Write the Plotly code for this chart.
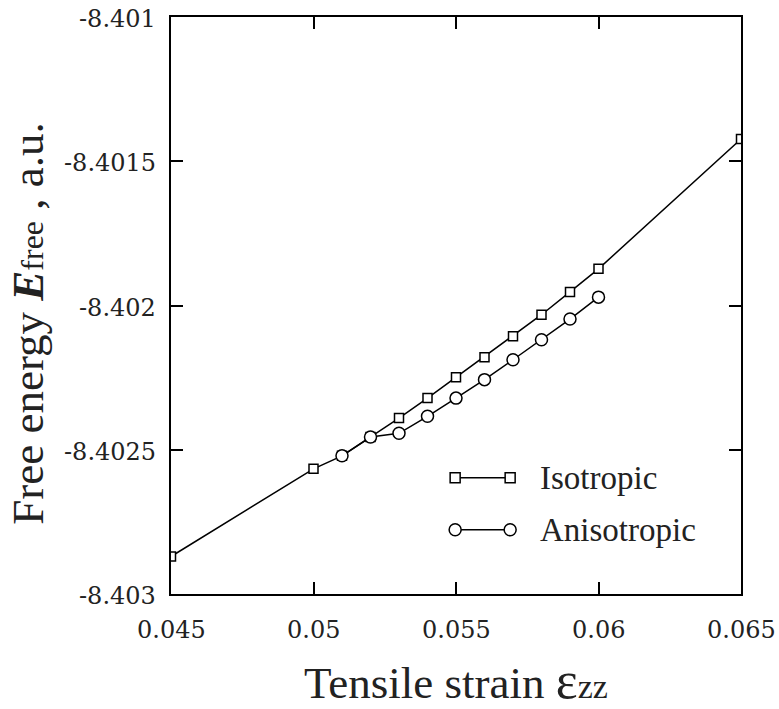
import plotly.graph_objects as go

# Data
iso_x = [0.045, 0.050, 0.051, 0.052, 0.053, 0.054, 0.055, 0.056, 0.057, 0.058, 0.059, 0.060, 0.065]
iso_y = [-8.40287, -8.402566, -8.402521, -8.402456, -8.40239, -8.402321, -8.402249,
         -8.402179, -8.402107, -8.402032, -8.401953, -8.401873, -8.401423]
ani_x = [0.051, 0.052, 0.053, 0.054, 0.055, 0.056, 0.057, 0.058, 0.059, 0.060]
ani_y = [-8.402521, -8.402456, -8.402443, -8.402384, -8.402321, -8.402257,
         -8.402188, -8.402119, -8.402047, -8.401971]

x_tickvals = [0.045, 0.05, 0.055, 0.06, 0.065]
x_ticktext = ["0.045", "0.05", "0.055", "0.06", "0.065"]
y_tickvals = [-8.403, -8.4025, -8.402, -8.4015, -8.401]
y_ticktext = ["-8.403", "-8.4025", "-8.402", "-8.4015", "-8.401"]
legend_names = ["Isotropic", "Anisotropic"]
x_title = "Tensile strain <span style='font-size:52px'>ε</span><span style='font-size:34px'>zz</span>"
y_title = "Free energy <b><i>E</i></b><span style='font-size:32px'>free</span> , a.u."

FONT = "Liberation Serif, Times New Roman, serif"
TICKFONT = "DejaVu Serif, serif"
TXT = "#222222"

fig = go.Figure()
fig.add_trace(go.Scatter(
    x=iso_x, y=iso_y, mode="lines+markers", name=legend_names[0],
    line=dict(color="black", width=1.5),
    marker=dict(symbol="square", size=9, color="white", line=dict(color="black", width=1.5)),
    showlegend=False))
fig.add_trace(go.Scatter(
    x=ani_x, y=ani_y, mode="lines+markers", name=legend_names[1],
    line=dict(color="black", width=1.5),
    marker=dict(symbol="circle", size=12, color="white", line=dict(color="black", width=1.5)),
    showlegend=False))

shapes = []
annotations = []

# manual legend (symbol - line - symbol)
leg_rows = [(0.2016, "square"), (0.1114, "circle")]
xl, xr = 0.4985, 0.595
for (yy, sym), name in zip(leg_rows, legend_names):
    shapes.append(dict(type="line", xref="paper", yref="paper", x0=xl, x1=xr, y0=yy, y1=yy,
                       line=dict(color="black", width=1.5)))
    for xa in (xl, xr):
        r = 5 if sym == "square" else 6
        shapes.append(dict(type="rect" if sym == "square" else "circle",
                           xref="paper", yref="paper",
                           xsizemode="pixel", ysizemode="pixel",
                           xanchor=xa, yanchor=yy, x0=-r, x1=r, y0=-r, y1=r,
                           fillcolor="white", line=dict(color="black", width=1.5)))
    annotations.append(dict(xref="paper", yref="paper", x=0.6437, y=yy, text=name,
                            showarrow=False, xanchor="left", yanchor="middle",
                            font=dict(family=FONT, size=33, color=TXT)))

# tick labels placed on the axis scales
for v, t in zip(x_tickvals, x_ticktext):
    annotations.append(dict(xref="x", yref="paper", x=v, y=-0.0619, text=t,
                            showarrow=False, xanchor="center", yanchor="middle",
                            font=dict(family=TICKFONT, size=24, color=TXT)))
for v, t in zip(y_tickvals, y_ticktext):
    annotations.append(dict(xref="paper", yref="y", x=-0.0223, y=v, text=t,
                            showarrow=False, xanchor="right", yanchor="middle", yshift=-2,
                            font=dict(family=TICKFONT, size=24, color=TXT)))

# axis titles
annotations.append(dict(xref="paper", yref="paper", x=0.5, y=-0.150, text=x_title,
                        showarrow=False, xanchor="center", yanchor="middle",
                        font=dict(family=FONT, size=45, color=TXT)))
annotations.append(dict(xref="paper", yref="paper", x=-0.251, y=0.47, text=y_title,
                        showarrow=False, xanchor="center", yanchor="middle", textangle=-90,
                        font=dict(family=FONT, size=45, color=TXT)))

axis_common = dict(
    showline=True, linecolor="black", linewidth=2, mirror="ticks",
    ticks="inside", ticklen=12, tickwidth=1.5, tickcolor="black",
    showgrid=False, zeroline=False, automargin=False, showticklabels=False,
    minor=dict(ticks="inside", ticklen=6, tickwidth=1.5, tickcolor="black", nticks=2, showgrid=False),
)

fig.update_xaxes(range=[0.045, 0.065], tickvals=x_tickvals, **axis_common)
fig.update_yaxes(range=[-8.403, -8.401], tickvals=y_tickvals, **axis_common)

fig.update_layout(
    width=779, height=709,
    margin=dict(l=171, r=38, t=17, b=115),
    font=dict(family=FONT, size=26, color=TXT),
    plot_bgcolor="white", paper_bgcolor="white",
    shapes=shapes, annotations=annotations,
)

fig.write_html("out.html")
